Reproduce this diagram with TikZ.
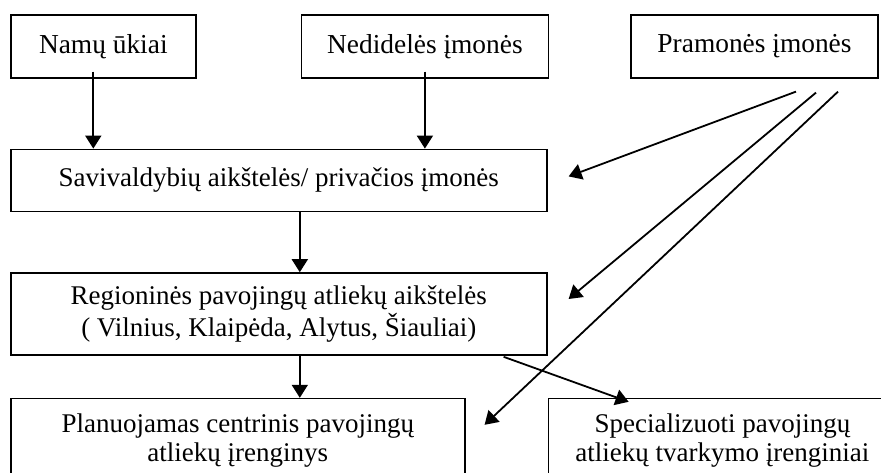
\documentclass[tikz,border=0pt]{standalone}
\usepackage{fontspec}
\setmainfont{Liberation Serif}
\usepackage{tikz}
\usetikzlibrary{arrows.meta, positioning}
\tikzset{
  srcbox/.style={rectangle, draw, line width=0.8pt, minimum width=123.5pt, minimum height=31.5pt, inner sep=0pt, align=center, font=\fontsize{13.7}{14.5}\selectfont},
  stagebox/.style={rectangle, draw, line width=0.8pt, minimum width=268pt, inner sep=0pt, align=center, font=\fontsize{13.5}{14.5}\selectfont},
  arr/.style={-{Triangle[length=6.5pt, width=8pt]}, line width=0.9pt},
}
\begin{document}
\begin{tikzpicture}[x=0.5pt, y=-0.5pt]
  \path[use as bounding box, clip] (0,0) rectangle (881,472);

  % Sources
  \node[srcbox, minimum width=92.5pt, anchor=north west] (namu) at (10,14) {Namų ūkiai};
  \node[srcbox, right=52pt of namu] (ned) {Nedidelės įmonės};
  \node[srcbox, right=40.5pt of ned] (pram) {Pramonės įmonės};

  % Collection stages
  \node[stagebox, minimum height=31pt, below=35pt of namu.south west, anchor=north west] (sav) {Savivaldybių aikštelės/ privačios įmonės};
  \node[stagebox, minimum height=41pt, below=30pt of sav] (reg) {Regioninės pavojingų atliekų aikštelės\\( Vilnius, Klaipėda, Alytus, Šiauliai)};

  % Treatment
  \node[stagebox, minimum width=227pt, minimum height=41.5pt, below=21pt of reg.south west, anchor=north west] (plan) {Planuojamas centrinis pavojingų\\atliekų įrenginys};
  \node[stagebox, minimum width=174pt, minimum height=41.5pt, right=41pt of plan.north east, anchor=north west] (spec) {Specializuoti pavojingų\\atliekų tvarkymo įrenginiai};

  % Flows
  \draw[arr] ([xshift=-5pt, yshift=3.5pt]namu.south) -- ([xshift=-5pt]namu.south |- sav.north);
  \draw[arr] ([yshift=3.5pt]ned.south) -- (ned.south |- sav.north);
  \draw[arr] ([xshift=10.5pt]sav.south) -- ([xshift=10.5pt]reg.north);
  \draw[arr] ([xshift=10.5pt]reg.south) -- ([xshift=10.5pt]reg.south |- plan.north);
  \draw[arr] ([xshift=20.75pt, yshift=-6.5pt]pram.south) -- ([xshift=10.5pt, yshift=2pt]sav.east);
  \draw[arr] ([xshift=30.75pt, yshift=-7pt]pram.south) -- ([xshift=10.5pt, yshift=7.5pt]reg.east);
  \draw[arr] ([xshift=41.75pt, yshift=-6.5pt]pram.south) -- ([xshift=9.5pt, yshift=-13.5pt]plan.north east);
  \draw[arr] ([xshift=-22pt, yshift=-0.5pt]reg.south east) -- ([xshift=40.5pt, yshift=-2pt]spec.north west);
\end{tikzpicture}
\end{document}
